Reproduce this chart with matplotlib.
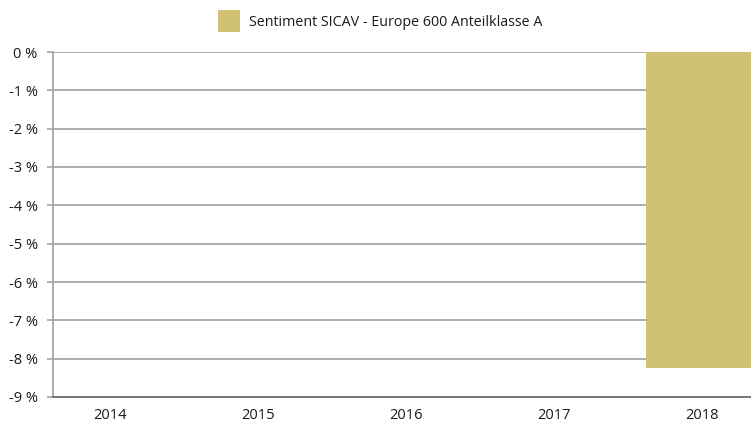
import matplotlib
matplotlib.use('Agg')
import matplotlib.pyplot as plt
from matplotlib.ticker import FuncFormatter

years = ['2014', '2015', '2016', '2017', '2018']
returns = [0.0, 0.0, 0.0, 0.0, -8.25]
series_name = 'Sentiment SICAV - Europe 600 Anteilklasse A'

bar_color = '#d0c174'
grid_color = '#a6a6a6'

plt.rcParams['font.family'] = ['Open Sans', 'DejaVu Sans']

fig = plt.figure(figsize=(7.51, 4.25), dpi=100)
ax = fig.add_axes([53 / 751, 1 - 397 / 425, 698 / 751, 345 / 425])

x = list(range(len(years)))
bars = ax.bar(x, returns, width=0.76, color=bar_color, label=series_name, zorder=3)

ax.set_ylim(-9, 0)
ax.set_xlim(-0.385, 4.33)
ax.set_yticks(range(-9, 1))
ax.yaxis.set_major_formatter(FuncFormatter(lambda v, p: '%d %%' % v))
ax.set_xticks(x)
ax.set_xticklabels(years)

ax.grid(axis='y', color=grid_color, linewidth=1.3, zorder=0)
for s in ['top', 'right']:
    ax.spines[s].set_visible(False)
ax.spines['left'].set_color(grid_color)
ax.spines['left'].set_linewidth(1.3)
ax.spines['bottom'].set_color('#6e6e6e')
ax.spines['bottom'].set_linewidth(1.3)

ax.tick_params(axis='y', length=4.5, width=1.2, color=grid_color, pad=6.5,
               labelsize=10.5, labelcolor='#1a1a1a')
ax.tick_params(axis='x', length=0, pad=8, labelsize=10.5, labelcolor='#1a1a1a')

leg = fig.legend(handles=[bars], labels=[series_name], loc='center',
                 bbox_to_anchor=(380 / 751, 1 - 21 / 425), frameon=False,
                 fontsize=10.3, handlelength=1.6, handleheight=1.95, handletextpad=0.6)
for t in leg.get_texts():
    t.set_color('#1a1a1a')

fig.savefig('out.png', dpi=100)
